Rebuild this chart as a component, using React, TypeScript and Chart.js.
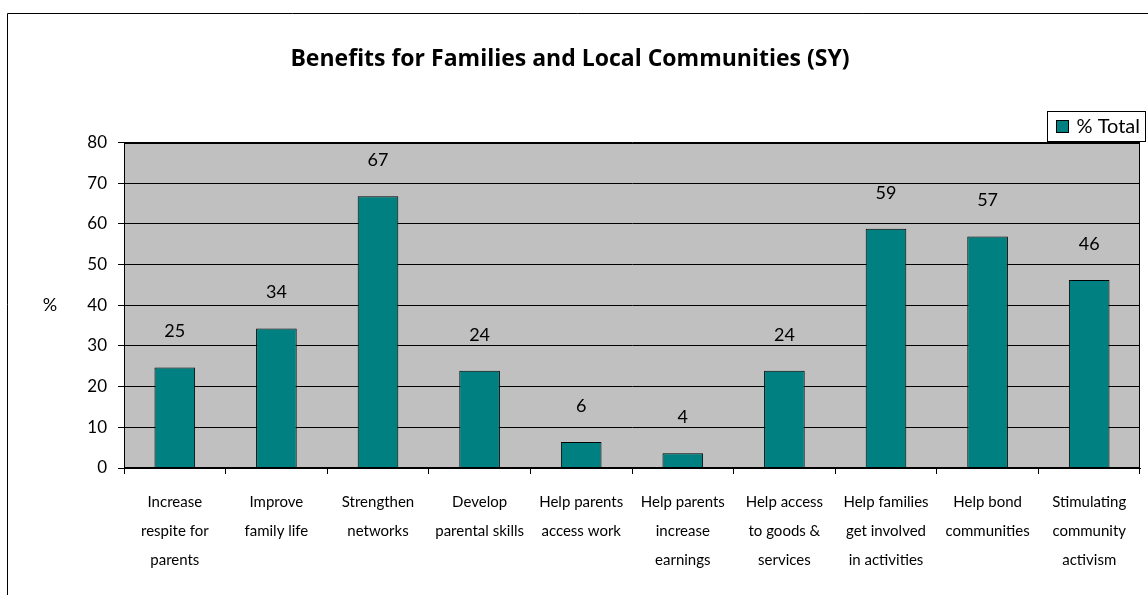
import React, { useEffect, useRef } from "react";
import { Chart, registerables } from "chart.js";

Chart.register(...registerables);

const categories: string[][] = [
  ["Increase", "respite for", "parents"],
  ["Improve", "family life"],
  ["Strengthen", "networks"],
  ["Develop", "parental skills"],
  ["Help parents", "access work"],
  ["Help parents", "increase", "earnings"],
  ["Help access", "to goods &", "services"],
  ["Help families", "get involved", "in activities"],
  ["Help bond", "communities"],
  ["Stimulating", "community", "activism"],
];

const totalValues: number[] = [24.7, 34.3, 66.8, 23.9, 6.4, 3.6, 23.9, 58.8, 56.9, 46.2];

const seriesLabel = "% Total";
const chartTitle = "Benefits for Families and Local Communities (SY)";
const yAxisTitle = "%";
const yMin = 0;
const yMax = 80;
const yStep = 10;

const FONT = "Lato, 'Open Sans', sans-serif";
const TITLE_FONT = "'Open Sans', Lato, sans-serif";
const TEAL = "#008080";
const PLOT_BG = "#C0C0C0";

const decorPlugin = {
  id: "decor",
  beforeDraw(chart: any) {
    const { ctx, chartArea, width, height } = chart;
    ctx.save();
    ctx.fillStyle = "#ffffff";
    ctx.fillRect(0, 0, width, height);
    // outer frame
    ctx.strokeStyle = "#000";
    ctx.lineWidth = 1;
    ctx.beginPath();
    ctx.moveTo(7.5, height);
    ctx.lineTo(7.5, 13.5);
    ctx.lineTo(width, 13.5);
    ctx.stroke();
    // plot background
    ctx.fillStyle = PLOT_BG;
    ctx.fillRect(chartArea.left, chartArea.top, chartArea.right - chartArea.left, chartArea.bottom - chartArea.top);
    ctx.restore();
  },
  afterDraw(chart: any) {
    const { ctx, chartArea } = chart;
    ctx.save();
    // plot border
    ctx.strokeStyle = "#000";
    ctx.lineWidth = 1;
    ctx.strokeRect(
      Math.round(chartArea.left) + 0.5,
      Math.round(chartArea.top) + 0.5,
      Math.round(chartArea.right - chartArea.left) - 1,
      Math.round(chartArea.bottom - chartArea.top) - 1
    );
    // y axis title (upright, as in the source)
    ctx.fillStyle = "#000";
    ctx.font = `18px ${FONT}`;
    ctx.textAlign = "center";
    ctx.textBaseline = "middle";
    ctx.fillText(yAxisTitle, 50, (chartArea.top + chartArea.bottom) / 2);
    // data labels
    const meta = chart.getDatasetMeta(0);
    const data = chart.data.datasets[0].data as number[];
    ctx.font = `18px ${FONT}`;
    meta.data.forEach((el: any, i: number) => {
      ctx.fillText(String(Math.round(data[i])), el.x, el.y - 36);
    });
    // legend
    const ds = chart.data.datasets[0];
    const bx = 1047.5, by = 111.5, bw = 98, bh = 30;
    ctx.fillStyle = "#fff";
    ctx.fillRect(bx, by, bw, bh);
    ctx.strokeStyle = "#000";
    ctx.strokeRect(bx, by, bw, bh);
    ctx.fillStyle = ds.backgroundColor;
    ctx.fillRect(bx + 9, by + 9, 12, 12);
    ctx.strokeRect(bx + 9, by + 9, 12, 12);
    ctx.fillStyle = "#000";
    ctx.font = `20px ${FONT}`;
    ctx.textAlign = "left";
    ctx.textBaseline = "middle";
    ctx.fillText(ds.label, bx + 29, by + bh / 2 + 0.5);
    ctx.restore();
  },
};

export default function App() {
  const canvasRef = useRef<HTMLCanvasElement | null>(null);

  useEffect(() => {
    document.body.style.margin = "0";
    const canvas = canvasRef.current;
    if (!canvas) return;
    const chart = new Chart(canvas, {
      type: "bar",
      data: {
        labels: categories,
        datasets: [
          {
            label: seriesLabel,
            data: totalValues,
            backgroundColor: TEAL,
            borderColor: "#000",
            borderWidth: 1,
            barPercentage: 0.4,
            categoryPercentage: 1,
          },
        ],
      },
      options: {
        responsive: false,
        animation: false,
        layout: { padding: { left: 0, right: 8, top: 0, bottom: 0 } },
        plugins: {
          legend: { display: false },
          tooltip: { enabled: false },
          title: {
            display: true,
            text: chartTitle,
            color: "#000",
            font: { family: TITLE_FONT, size: 23, weight: "bold", lineHeight: 1.2 },
            padding: { top: 46, bottom: 69 },
          },
        },
        scales: {
          x: {
            grid: {
              display: true,
              drawOnChartArea: false,
              drawTicks: true,
              tickLength: 6,
              color: "#000",
              offset: true,
            },
            border: { display: true, color: "#000" },
            ticks: {
              color: "#000",
              font: { family: FONT, size: 15, lineHeight: "29px" },
              padding: 14,
              maxRotation: 0,
              minRotation: 0,
              autoSkip: false,
            },
            afterFit(scale: any) {
              scale.height = 127;
            },
          },
          y: {
            min: yMin,
            max: yMax,
            grid: {
              color: "#000",
              tickLength: 6,
              drawTicks: true,
            },
            border: { display: true, color: "#000" },
            ticks: {
              stepSize: yStep,
              color: "#000",
              font: { family: FONT, size: 17 },
              padding: 11,
            },
            afterFit(scale: any) {
              scale.width = 124;
            },
          },
        },
      },
      plugins: [decorPlugin],
    });
    return () => chart.destroy();
  }, []);

  return (
    <div style={{ width: 1148, height: 595 }}>
      <canvas ref={canvasRef} width={1148} height={595} style={{ display: "block", width: 1148, height: 595 }} />
    </div>
  );
}
